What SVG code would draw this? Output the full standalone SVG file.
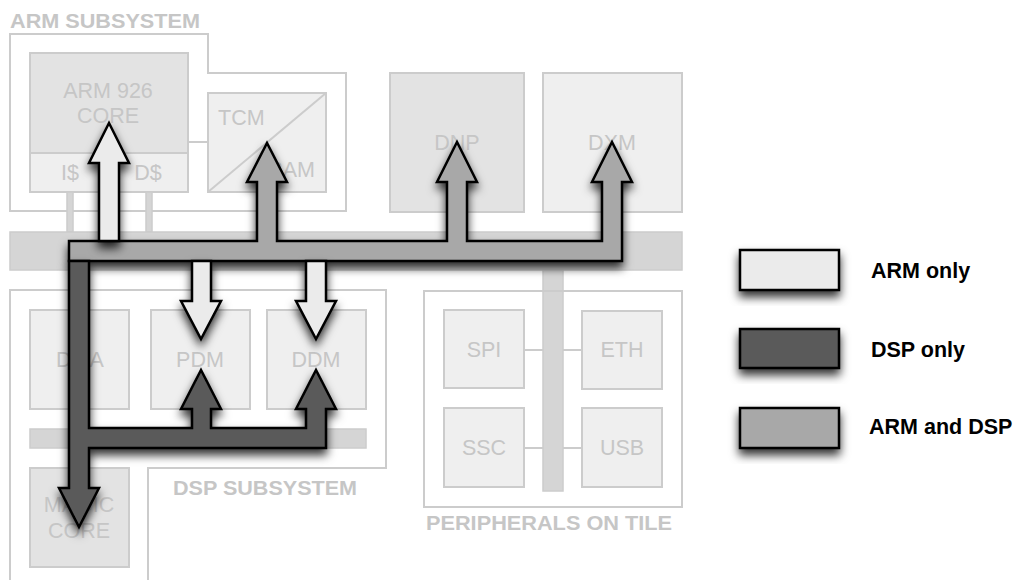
<svg xmlns="http://www.w3.org/2000/svg" width="1019" height="581" viewBox="0 0 1019 581">
<defs>
<filter id="sh" x="-30%" y="-30%" width="160%" height="170%">
<feDropShadow dx="0" dy="6" stdDeviation="5" flood-color="#000" flood-opacity="0.8"/>
</filter>
</defs>
<style>
.outline{fill:none;stroke:#cccccc;stroke-width:2}
.dk{fill:#e3e3e3;stroke:#cccccc;stroke-width:2}
.lt{fill:#efefef;stroke:#cccccc;stroke-width:2}
.bus{fill:#d5d5d5;stroke:#cccccc;stroke-width:1.5}
.wire{stroke:#cccccc;stroke-width:2;fill:none}
.lbl{font-family:"Liberation Sans",Arial,sans-serif;font-size:21.5px;fill:#c6c6c6;text-anchor:middle}
.ttl{font-family:"Liberation Sans",Arial,sans-serif;font-size:19.5px;font-weight:bold;fill:#c6c6c6}
.leg{font-family:"Liberation Sans",Arial,sans-serif;font-size:21.5px;font-weight:bold;fill:#000}
.arr{stroke:#000;stroke-width:2.5;stroke-linejoin:miter;filter:url(#sh)}
.aL{fill:#ebebeb}
.aD{fill:#5a5a5a}
.aG{fill:#a8a8a8}
</style>

<g id="arm-subsystem">
<path class="outline" d="M10,34 H208 V73 H346 V211 H10 Z"/>
<text class="ttl" x="10" y="28" textLength="190" lengthAdjust="spacingAndGlyphs">ARM SUBSYSTEM</text>
</g>
<g id="arm-core">
<rect class="dk" x="30" y="53" width="158" height="100"/>
<rect class="lt" x="30" y="153" width="158" height="39"/>
<text class="lbl" x="108" y="98">ARM 926</text>
<text class="lbl" x="108" y="123">CORE</text>
<text class="lbl" x="70" y="180">I$</text>
<text class="lbl" x="148" y="180">D$</text>
</g>
<g id="tcm-ram">
<rect class="lt" x="208" y="93" width="118" height="99"/>
<line class="wire" x1="208" y1="192" x2="326" y2="93"/>
<text class="lbl" x="218" y="125" style="text-anchor:start">TCM</text>
<text class="lbl" x="315" y="177" style="text-anchor:end">RAM</text>
</g>
<g id="dnp">
<rect class="dk" x="390" y="73" width="134" height="139"/>
<text class="lbl" x="457" y="150">DNP</text>
</g>
<g id="dxm">
<rect class="lt" x="543" y="73" width="139" height="139"/>
<text class="lbl" x="612" y="150">DXM</text>
</g>
<g id="main-bus">
<rect class="bus" x="67" y="192" width="6" height="40"/>
<rect class="bus" x="146" y="192" width="6" height="40"/>
<rect class="bus" x="10" y="232" width="672" height="38"/>
<rect class="bus" x="543" y="270" width="20" height="221"/>
</g>
<g id="dsp-subsystem">
<path class="outline" d="M10,580 V290 H386 V468 H148 V580"/>
<text class="ttl" x="173" y="495" textLength="184" lengthAdjust="spacingAndGlyphs">DSP SUBSYSTEM</text>
</g>
<g id="dma">
<rect class="lt" x="30" y="310" width="99" height="99"/>
<text class="lbl" x="80" y="367">DMA</text>
</g>
<g id="pdm">
<rect class="lt" x="151" y="310" width="99" height="99"/>
<text class="lbl" x="200" y="367">PDM</text>
</g>
<g id="ddm">
<rect class="lt" x="267" y="310" width="99" height="99"/>
<text class="lbl" x="316" y="367">DDM</text>
</g>
<g id="dsp-bus">
<rect class="bus" x="30" y="429" width="336" height="19"/>
</g>
<g id="magic-core">
<rect class="dk" x="30" y="468" width="99" height="99"/>
<text class="lbl" x="79" y="512">MAGIC</text>
<text class="lbl" x="79" y="538">CORE</text>
</g>
<g id="peripherals">
<rect class="outline" x="424" y="291" width="258" height="216"/>
<text class="ttl" x="426" y="530" textLength="246" lengthAdjust="spacingAndGlyphs">PERIPHERALS ON TILE</text>
</g>
<g id="spi">
<rect class="lt" x="444" y="310" width="80" height="78"/>
<text class="lbl" x="484" y="357">SPI</text>
</g>
<g id="eth">
<rect class="lt" x="582" y="311" width="80" height="78"/>
<text class="lbl" x="622" y="357">ETH</text>
</g>
<g id="ssc">
<rect class="lt" x="444" y="408" width="80" height="79"/>
<text class="lbl" x="484" y="455">SSC</text>
</g>
<g id="usb">
<rect class="lt" x="582" y="408" width="80" height="79"/>
<text class="lbl" x="622" y="455">USB</text>
</g>

<g id="connectors">
<line class="wire" x1="188" y1="142" x2="208" y2="142"/>
<line class="wire" x1="524" y1="350" x2="543" y2="350"/>
<line class="wire" x1="563" y1="350" x2="582" y2="350"/>
<line class="wire" x1="524" y1="448" x2="543" y2="448"/>
<line class="wire" x1="563" y1="448" x2="582" y2="448"/>
<path class="arr aG" d="M69,261 V241 H257 V182 H247 L267,143 L287,182 H277 V241 H447 V182 H437 L457,142 L477,182 H467 V241 H602 V182 H592 L612,142 L632,182 H622 V261 Z"/>
<path class="arr aD" d="M69,261 H89 V428 H192 V409 H181 L201,370 L221,409 H211 V428 H306 V409 H296 L316,370 L336,409 H326 V448 H89 V488 H99 L79,527 L59,488 H69 Z"/>
<path class="arr aL" d="M99,241 V163 H89 L109,123 L129,163 H119 V241 Z"/>
<path class="arr aL" d="M192,261 V301 H181 L201,339 L221,301 H211 V261 Z"/>
<path class="arr aL" d="M306,261 V301 H296 L316,339 L336,301 H326 V261 Z"/>
</g>

<g id="legend-arm">
<rect class="arr aL" x="740" y="250" width="99" height="40"/>
<text class="leg" x="871" y="278">ARM only</text>
</g>
<g id="legend-dsp">
<rect class="arr aD" x="740" y="329" width="99" height="39"/>
<text class="leg" x="871" y="357">DSP only</text>
</g>
<g id="legend-both">
<rect class="arr aG" x="740" y="408" width="99" height="40"/>
<text class="leg" x="869" y="434">ARM and DSP</text>
</g>
</svg>
